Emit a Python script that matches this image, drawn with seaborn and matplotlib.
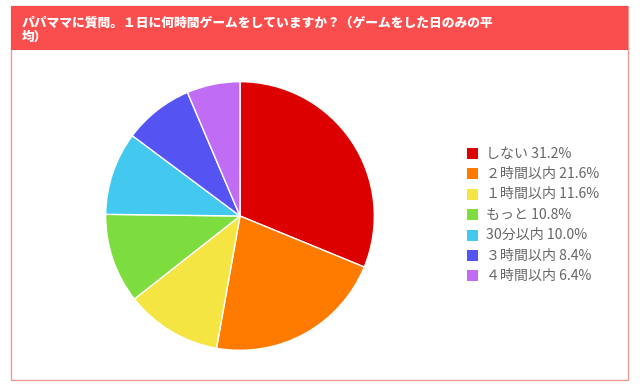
import matplotlib
matplotlib.use("Agg")
import matplotlib.pyplot as plt
import seaborn as sns
from matplotlib.patches import Rectangle

sns.set_theme(style="white")
plt.rcParams['font.family'] = ['Noto Sans CJK JP', 'DejaVu Sans']

title = "パパママに質問。１日に何時間ゲームをしていますか？（ゲームをした日のみの平\n均）"
categories = ["しない", "２時間以内", "１時間以内", "もっと", "30分以内", "３時間以内", "４時間以内"]
values = [31.2, 21.6, 11.6, 10.8, 10.0, 8.4, 6.4]
colors = ["#dc0000", "#ff7b00", "#f4e542", "#7ddc3e", "#43c9ef", "#5553f2", "#c06cf5"]

W, H = 640, 386
fig = plt.figure(figsize=(W / 100, H / 100), dpi=100)
fig.patch.set_facecolor("white")

def fx(x):
    return x / W

def fy(y):
    return 1 - y / H

# card
card_l, card_t, card_r, card_b = 10.5, 6, 627.5, 380
fig.patches.append(Rectangle((fx(card_l), fy(card_b)), fx(card_r - card_l), (card_b - card_t) / H,
                             transform=fig.transFigure, facecolor="white",
                             edgecolor="#ee9a94", linewidth=1.0, zorder=-2))
fig.patches.append(Rectangle((fx(card_l), fy(50)), fx(card_r - card_l), (50 - card_t) / H,
                             transform=fig.transFigure, facecolor="#fa4d4d",
                             edgecolor="none", zorder=-1))
fig.text(fx(22), fy(15.5), title, color="white", fontsize=9.2, fontweight="heavy",
         va="top", ha="left", linespacing=0.98, zorder=2)

# pie
cx, cy, r = 240, 216, 135
ax = fig.add_axes([fx(cx - r), fy(cy + r), fx(2 * r), 2 * r / H])
ax.set_zorder(1)
ax.pie(values, colors=colors, startangle=90, counterclock=False,
       wedgeprops=dict(edgecolor="white", linewidth=1.0), radius=1.0)
ax.set_xlim(-1.005, 1.005)
ax.set_ylim(-1.005, 1.005)
ax.set_aspect("equal")
ax.axis("off")

# legend
row_y0, row_dy = 153.5, 20.4
for i, (c, v, col) in enumerate(zip(categories, values, colors)):
    y = row_y0 + i * row_dy
    fig.patches.append(Rectangle((fx(467), fy(y + 5.5)), fx(11), 11 / H,
                                 transform=fig.transFigure, facecolor=col,
                                 edgecolor="none", zorder=2))
    fig.text(fx(486), fy(y), f"{c} {v:.1f}%", color="#666666", fontsize=10.1,
             va="center", ha="left", zorder=2)

fig.savefig("out.png", dpi=100, facecolor="white")
